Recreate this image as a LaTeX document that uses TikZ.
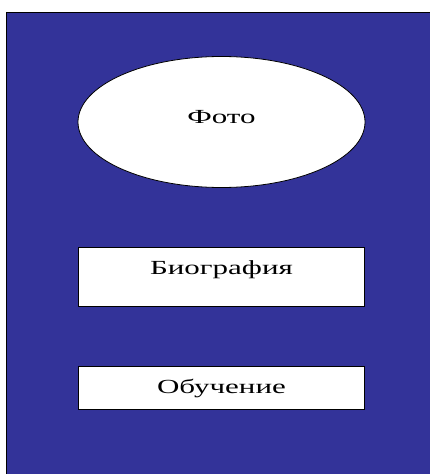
\documentclass[tikz,border=0pt]{standalone}
\usepackage{fontspec}
\setmainfont{Liberation Serif}
\newfontfamily\labelfont[FakeStretch=1.55]{Liberation Serif}
\usetikzlibrary{positioning,shapes.geometric}
\definecolor{pageblue}{HTML}{333399}

\begin{document}
\begin{tikzpicture}[
  x=1pt, y=-1pt,
  node distance=59pt,
  photo/.style={ellipse, draw=black, fill=white, line width=0.8pt, inner sep=0pt, minimum width=287pt, minimum height=131pt, font=\labelfont\fontsize{20}{24}\selectfont, text height=12pt, text depth=10pt},
  card/.style={rectangle, draw=black, fill=white, line width=0.8pt, inner sep=0pt, minimum width=286pt, text height=27pt, font=\labelfont\fontsize{20}{24}\selectfont}
]
\useasboundingbox (0,0) rectangle (430,474);
\draw[fill=pageblue, line width=1pt] (6.5,12.5) rectangle (440,484);

\node[photo] (foto) at (221.5,122) {Фото};
\node[card, text depth=32pt, below=of foto] (bio) {Биография};
\node[card, text depth=16pt, below=of bio] (study) {Обучение};
\end{tikzpicture}
\end{document}
